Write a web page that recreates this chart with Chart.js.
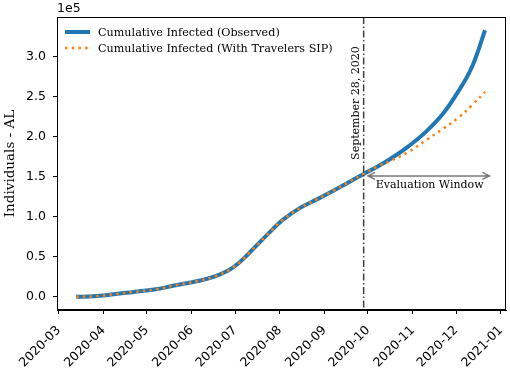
<!DOCTYPE html>
<html><head><meta charset="utf-8">
<script src="https://cdn.jsdelivr.net/npm/chart.js@4/dist/chart.umd.min.js"></script>
<style>html,body{margin:0;padding:0;background:#fff;}#wrap{width:510px;height:372px;position:relative;}</style>
</head><body><div id="wrap"><canvas id="c" width="510" height="372"></canvas></div>
<script>
// ---- data ----
const dates = ['2020-03-13','2020-03-25','2020-04-08','2020-04-22','2020-05-06','2020-05-20','2020-06-06','2020-06-18','2020-06-30','2020-07-11','2020-07-23','2020-08-03','2020-08-15','2020-08-27','2020-09-07','2020-09-18','2020-09-28','2020-10-08','2020-10-18','2020-10-29','2020-11-10','2020-11-22','2020-12-03','2020-12-12','2020-12-21'];
const observedValues = [0,500,3000,6000,9000,14000,20000,26000,37000,55000,77000,96000,111000,122000,132500,143500,153500,163000,174000,188000,206000,229000,258000,287500,333000];
const sipValues      = [0,500,3000,6000,9000,14000,20000,26000,37000,55000,77000,96000,111000,122000,132500,143500,153500,163000,171000,181000,195500,210000,224500,239500,256000];
const seriesLabels = ['Cumulative Infected (Observed)','Cumulative Infected (With Travelers SIP)'];
const monthTicks = ['2020-03-01','2020-04-01','2020-05-01','2020-06-01','2020-07-01','2020-08-01','2020-09-01','2020-10-01','2020-11-01','2020-12-01','2021-01-01'];
const yTicks = [0,50000,100000,150000,200000,250000,300000];
const cutoffDate = '2020-09-28';
const cutoffLabel = 'September 28, 2020';
const windowStart = '2020-10-01';
const windowEnd = '2020-12-24';
const windowLabel = 'Evaluation Window';
const yScaleLabel = 'Individuals - AL';

// ---- helpers ----
const BASE = Date.UTC(2020,2,1)/864e5;
function dayNum(s){const p=s.split('-').map(Number);return Date.UTC(p[0],p[1]-1,p[2])/864e5-BASE;}
function fmtMonth(d){const t=new Date((d+BASE)*864e5);return t.getUTCFullYear()+'-'+String(t.getUTCMonth()+1).padStart(2,'0');}
const obsPts = dates.map((d,i)=>({x:dayNum(d),y:observedValues[i]}));
const sipPts = dates.map((d,i)=>({x:dayNum(d),y:sipValues[i]}));

const BLUE='#1f77b4', ORANGE='#ff7f0e';
const SANS='"DejaVu Sans"', SERIF='"DejaVu Serif"';

const extras = {
  id:'extras',
  afterDatasetsDraw(chart){
    const {ctx, chartArea:a, scales:{x,y}} = chart;
    ctx.save();
    // cutoff line
    const cx = x.getPixelForValue(dayNum(cutoffDate));
    ctx.strokeStyle='#404040'; ctx.lineWidth=1.5; ctx.setLineDash([7,2.5,1.5,2.5]);
    ctx.beginPath(); ctx.moveTo(cx,a.top); ctx.lineTo(cx,a.bottom); ctx.stroke();
    ctx.setLineDash([]);
    // cutoff label
    ctx.fillStyle='#000'; ctx.font='11px '+SERIF;
    ctx.translate(cx-7.5, y.getPixelForValue(171000)); ctx.rotate(-Math.PI/2);
    ctx.textAlign='left'; ctx.textBaseline='middle';
    ctx.fillText(cutoffLabel,0,0);
    ctx.setTransform(1,0,0,1,0,0);
    // evaluation window arrow
    const ay = y.getPixelForValue(151000);
    const x0 = x.getPixelForValue(dayNum(windowStart)), x1 = x.getPixelForValue(dayNum(windowEnd));
    ctx.strokeStyle='#777'; ctx.lineWidth=1.5;
    ctx.beginPath(); ctx.moveTo(x0,ay); ctx.lineTo(x1,ay);
    ctx.moveTo(x0+7,ay-3.5); ctx.lineTo(x0,ay); ctx.lineTo(x0+7,ay+3.5);
    ctx.moveTo(x1-7,ay-3.5); ctx.lineTo(x1,ay); ctx.lineTo(x1-7,ay+3.5);
    ctx.stroke();
    ctx.fillStyle='#000'; ctx.font='11px '+SERIF; ctx.textAlign='center'; ctx.textBaseline='middle';
    ctx.fillText(windowLabel,(x0+x1)/2+1,y.getPixelForValue(139500));
    // frame
    ctx.strokeStyle='#000'; ctx.lineWidth=1;
    ctx.strokeRect(a.left+0.5,a.top+0.5,a.right-a.left-1,a.bottom-a.top-1);
    // offset text
    ctx.font='12.5px '+SANS; ctx.textAlign='left'; ctx.textBaseline='middle';
    ctx.fillText('1e5',a.left,a.top-8);
    // legend
    const lx=a.left+8, ly1=a.top+15, ly2=a.top+31;
    ctx.strokeStyle=BLUE; ctx.lineWidth=4; ctx.lineCap='butt';
    ctx.beginPath(); ctx.moveTo(lx,ly1); ctx.lineTo(lx+25,ly1); ctx.stroke();
    ctx.strokeStyle=ORANGE; ctx.lineWidth=2.5; ctx.setLineDash([2.5,4.2]);
    ctx.beginPath(); ctx.moveTo(lx,ly2); ctx.lineTo(lx+25,ly2); ctx.stroke();
    ctx.setLineDash([]);
    ctx.fillStyle='#000'; ctx.font='11.2px '+SERIF; ctx.textAlign='left'; ctx.textBaseline='middle';
    ctx.fillText(seriesLabels[0],lx+33,ly1+1);
    ctx.fillText(seriesLabels[1],lx+33,ly2+1);
    ctx.restore();
  }
};

new Chart(document.getElementById('c'),{
  type:'line',
  data:{datasets:[
    {label:seriesLabels[0],data:obsPts,borderColor:BLUE,borderWidth:4,pointRadius:0,tension:0.4,borderCapStyle:'butt',order:2},
    {label:seriesLabels[1],data:sipPts,borderColor:ORANGE,borderWidth:2.5,borderDash:[2.5,4.2],pointRadius:0,tension:0.4,borderCapStyle:'butt',order:1}
  ]},
  options:{
    responsive:false,animation:false,devicePixelRatio:1,
    layout:{padding:{top:17,right:4,left:0,bottom:0}},
    plugins:{legend:{display:false},tooltip:{enabled:false}},
    scales:{
      x:{type:'linear',min:-1.2,max:309.5,offset:false,
        afterBuildTicks(s){s.ticks=monthTicks.map(d=>({value:dayNum(d)}));},
        afterFit(s){s.height=62;s.paddingLeft=0;s.paddingRight=0;},
        grid:{display:true,drawOnChartArea:false,drawTicks:true,tickLength:4,tickColor:'#000',tickWidth:1},
        border:{display:true,color:'#000',width:1},
        ticks:{minRotation:45,maxRotation:45,autoSkip:false,padding:9,color:'#000',font:{family:SANS,size:12.5},callback:(v)=>fmtMonth(v)}
      },
      y:{type:'linear',min:-16600,max:349600,
        afterBuildTicks(s){s.ticks=yTicks.map(v=>({value:v}));},
        afterFit(s){s.width=57;s.paddingTop=0;s.paddingBottom=0;},
        grid:{display:true,drawOnChartArea:false,drawTicks:true,tickLength:4,tickColor:'#000',tickWidth:1},
        border:{display:true,color:'#000',width:1},
        title:{display:true,text:yScaleLabel,color:'#000',font:{family:SERIF,size:13.5},padding:{top:2,bottom:0}},
        ticks:{padding:7,color:'#000',font:{family:SANS,size:12.5},callback:(v)=>(v/1e5).toFixed(1)}
      }
    }
  },
  plugins:[extras]
});
</script></body></html>
